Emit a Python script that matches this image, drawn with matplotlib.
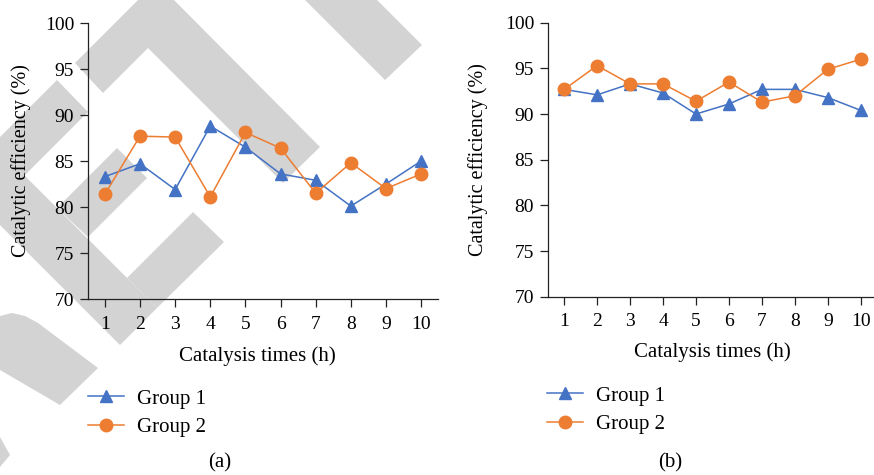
#!/usr/bin/env python3
# -*- coding: utf-8 -*-

import matplotlib
matplotlib.use('Agg')
import matplotlib.pyplot as plt
from matplotlib.patches import Polygon

plt.rcParams['font.family'] = ['Liberation Serif', 'DejaVu Serif']

# 数据
times = [1, 2, 3, 4, 5, 6, 7, 8, 9, 10]
a_group1 = [83.3, 84.7, 81.9, 88.8, 86.5, 83.6, 82.9, 80.1, 82.5, 85.0]
a_group2 = [81.4, 87.7, 87.6, 81.1, 88.1, 86.4, 81.5, 84.8, 82.0, 83.6]
b_group1 = [92.7, 92.1, 93.3, 92.3, 90.0, 91.1, 92.7, 92.7, 91.8, 90.4]
b_group2 = [92.7, 95.3, 93.3, 93.3, 91.4, 93.5, 91.3, 92.0, 94.9, 96.0]
yticks = [70, 75, 80, 85, 90, 95, 100]
series_names = ['Group 1', 'Group 2']
panel_names = ['(a)', '(b)']

W, H = 874, 475
BLUE = '#4472C4'
ORANGE = '#ED7D31'
GREY = '#d3d3d3'
FS = 14      # tick labels
LFS = 15     # axis labels / legend

# watermark shapes (pixel coords, origin top-left)
watermark = [
    [(75, 63), (138, 0), (174, 0), (320, 147), (283, 183), (148, 48), (103, 93)],
    [(305, 0), (377, 0), (422, 45), (385, 80)],
    [(57, 80), (88, 112), (0, 200), (0, 137)],
    [(117, 148), (147, 178), (88, 237), (57, 208)],
    [(0, 151), (157, 308), (120, 345), (0, 225)],
    [(193, 212), (224, 242), (157, 308), (127, 278)],
    [(0, 316), (12, 313), (25, 316), (38, 323), (98, 368), (60, 405), (0, 370)],
    [(0, 437), (10, 455), (0, 467)],
]


def px(x, y):
    return x / W, 1 - y / H


def draw_panel(fig, rect, g1, g2, xlim, name, label_pos, leg_pos):
    ax = fig.add_axes(rect)
    ax.patch.set_visible(False)
    ax.plot(times, g1, color=BLUE, lw=1.1, marker='^', ms=9, label=series_names[0], zorder=3)
    ax.plot(times, g2, color=ORANGE, lw=1.1, marker='o', ms=9, label=series_names[1], zorder=4)
    ax.set_xlim(*xlim)
    ax.set_ylim(70, 100)
    ax.set_xticks(times)
    ax.set_yticks(yticks)
    for s in ['top', 'right']:
        ax.spines[s].set_visible(False)
    for s in ['left', 'bottom']:
        ax.spines[s].set_linewidth(0.9)
        ax.spines[s].set_color('#222222')
    ax.tick_params(axis='both', labelsize=FS, length=6, width=0.9, color='#222222', pad=4)
    ax.tick_params(axis='x', pad=6)

    ax.set_xlabel('Catalysis times (h)', fontsize=LFS)
    ax.set_ylabel('Catalytic efficiency (%)', fontsize=LFS - 0.5)
    # 轴标签位置
    x0, y0 = rect[0] * W, (1 - rect[1] - rect[3]) * H
    w, h = rect[2] * W, rect[3] * H
    xl, yl = label_pos
    ax.xaxis.label.set_va('center')
    ax.xaxis.set_label_coords((xl[0] - x0) / w, (y0 + h - xl[1]) / h)
    ax.yaxis.label.set_va('center')
    ax.yaxis.set_label_coords((yl[0] - x0) / w, (y0 + h - yl[1]) / h)

    fig.legend(*ax.get_legend_handles_labels(), loc='upper left', bbox_to_anchor=px(*leg_pos),
               frameon=False, fontsize=LFS, handlelength=1.75, handletextpad=0.6,
               labelspacing=0.42, borderpad=0, borderaxespad=0)
    fig.text(name[1][0] / W, 1 - name[1][1] / H, name[0], fontsize=LFS, ha='center', va='center')
    return ax


if __name__ == '__main__':
    fig = plt.figure(figsize=(W / 100, H / 100), dpi=100)

    for pts in watermark:
        poly = Polygon([px(x, y) for x, y in pts], closed=True, transform=fig.transFigure,
                       facecolor=GREY, edgecolor='none', zorder=-1)
        fig.patches.append(poly)

    draw_panel(fig, [88 / W, 1 - 299 / H, 350 / W, 276 / H], a_group1, a_group2, (0.52, 10.48),
               (panel_names[0], (220, 463)), ((257, 356), (21, 161)), (88, 389))
    draw_panel(fig, [548 / W, 1 - 296.7 / H, 325 / W, 274 / H], b_group1, b_group2, (0.51, 10.37),
               (panel_names[1], (670, 463)), ((712, 352), (478, 160)), (547, 386))

    fig.savefig('out.png', dpi=100)
